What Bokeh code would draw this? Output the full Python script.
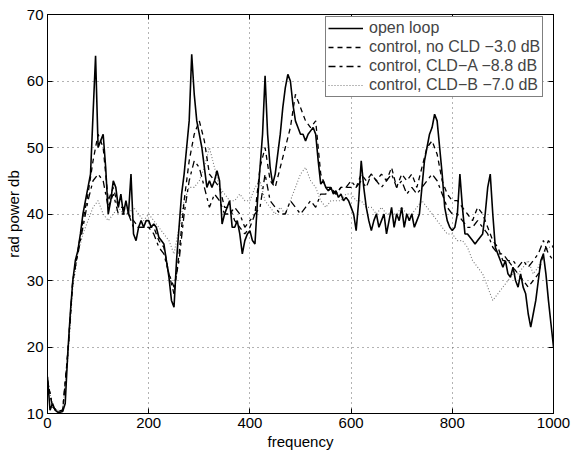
from bokeh.plotting import figure
from bokeh.models import Range1d, FixedTicker, LinearAxis, Legend, LegendItem
from bokeh.embed import file_html
from bokeh.resources import INLINE

# ---- data ----
ol_freq = list(range(0, 1001, 5))
open_loop = [
    15.5, 10.5, 11.5, 10.5, 10.2, 10.2, 10.3, 11.5, 19, 25, 30, 33, 34.5, 37, 40, 42, 44, 46, 55, 63.8,
    50, 51, 52, 47, 40, 42, 45, 44, 41, 43, 40, 42, 40, 46, 37, 36, 38, 39, 38, 39,
    39, 38, 38.5, 38, 36.5, 36, 35.5, 33, 30.5, 27, 26, 33, 38, 43, 46, 50, 54, 64, 58, 54,
    52, 50, 47, 44, 45, 44, 45, 46.5, 45, 38.5, 40, 41, 42, 38, 38, 39, 37, 34, 36, 37,
    37.5, 36, 35.5, 42, 47, 52, 60.8, 52, 47, 44.5, 46, 49, 52, 56, 59, 61, 60, 56.5, 54, 53,
    52, 52, 51, 52, 52.5, 53, 52, 48, 44.5, 45, 44, 43.5, 44, 43, 43.5, 42.5, 43, 42, 42.5, 42,
    41, 40, 37.5, 42, 48, 44, 41, 39, 37.5, 39, 40, 38, 39, 40, 37, 39, 41, 38, 40, 39,
    41, 38, 40, 39, 40, 38, 39, 40, 44, 48, 50, 52, 53, 55, 54, 50, 46, 41, 39, 38,
    37.5, 38, 40, 46, 41, 37, 37, 36.5, 36, 35.5, 36, 36.5, 37, 40, 44, 46, 40, 35, 34, 33,
    32, 33, 31, 30.5, 32, 30, 29, 31, 29, 28, 25, 23, 25, 27, 30, 33, 34, 31, 27, 23.5,
    20,
]

ctrl_freq = list(range(0, 1001, 10))
no_cld = [
    15, 11, 10.3, 10.5, 19, 30, 34.5, 39, 43, 48,
    52, 50, 42, 44, 41, 41, 40, 39, 38, 38,
    38, 38, 36, 35, 31, 28, 34, 42, 48, 52,
    54, 51, 46, 45, 44, 41, 41, 39, 38, 37,
    38, 40, 47, 50, 45, 44, 47, 50, 53, 58,
    56, 54, 53, 54, 46, 44, 44, 43, 44, 44,
    44, 44, 46, 45, 46, 45, 46, 45, 47, 44,
    46, 45, 46, 44, 47, 50, 51, 49, 45, 43,
    42, 42, 41, 40, 39, 41, 40, 38, 36, 35,
    33, 33, 32, 31, 30, 29, 30, 31, 34, 36,
    35,
]
cld_a = [
    15, 11, 10.3, 10.5, 19, 30, 34, 38, 42, 45,
    46, 45, 41, 43, 40, 40, 40, 38, 38, 38,
    38, 37, 35, 34, 31, 29, 33, 40, 45, 48,
    47, 44, 41, 43, 42, 40, 40, 41, 40, 38,
    39, 40, 41, 46, 42, 41, 40, 40, 42, 41,
    40, 41, 42, 41, 43, 43, 44, 43, 44, 44,
    45, 44, 45, 44, 46, 45, 44, 45, 46, 44,
    45, 43, 44, 43, 44, 45, 46, 45, 43, 41,
    40, 40, 39, 38, 38, 39, 38, 37, 35, 34,
    34, 33, 33, 32, 33, 32, 33, 34, 36, 34,
    33,
]
cld_b = [
    15, 11, 10.5, 10.5, 18, 29, 34, 37, 39, 41,
    42, 40, 39, 40, 41, 40, 40, 41, 40, 39,
    40, 39, 38, 37, 36, 34, 38, 42, 44, 44,
    45, 47, 50, 47, 44, 43, 42, 42, 43, 42,
    42, 44, 45, 42, 41, 40, 41, 40, 42, 44,
    46, 47, 45, 44, 42, 41, 42, 42, 42, 43,
    43, 42, 42, 41, 41, 40, 41, 40, 40, 40,
    41, 40, 40, 41, 42, 41, 40, 39, 38, 37,
    37, 36, 36, 35, 33, 32, 31, 29, 27, 28,
    29, 30, 31, 31, 32, 33, 31, 32, 34, 35,
    35,
]

labels = ["open loop", "control, no CLD \u22123.0 dB",
          "control, CLD\u2212A \u22128.8 dB", "control, CLD\u2212B \u22127.0 dB"]
x_ticks = [0, 200, 400, 600, 800, 1000]
y_ticks = [10, 20, 30, 40, 50, 60, 70]

FONT = "Liberation Sans"

p = figure(width=571, height=454, output_backend="svg", toolbar_location=None,
           x_range=Range1d(0, 1000), y_range=Range1d(10, 70),
           min_border_left=47, min_border_right=18, min_border_top=14, min_border_bottom=41)
p.background_fill_color = "white"
p.border_fill_color = "white"
p.outline_line_color = "black"
p.outline_line_width = 1

for ax in (p.xaxis[0], p.yaxis[0]):
    ax.major_tick_in = 5
    ax.major_tick_out = 0
    ax.minor_tick_line_color = None
    ax.axis_line_color = "black"
    ax.major_tick_line_color = "black"
    ax.major_label_text_font = FONT
    ax.major_label_text_font_size = "15px"
    ax.major_label_text_color = "black"
    ax.axis_label_text_font = FONT
    ax.axis_label_text_font_size = "15px"
    ax.axis_label_text_font_style = "normal"
    ax.axis_label_text_color = "black"
    ax.major_label_standoff = 4
    ax.axis_label_standoff = 2
p.xaxis[0].ticker = FixedTicker(ticks=x_ticks)
p.yaxis[0].ticker = FixedTicker(ticks=y_ticks)
p.xaxis[0].axis_label = "frequency"
p.yaxis[0].axis_label = "rad power db"

# box ticks on the top and right edges (no labels there)
top = LinearAxis(ticker=FixedTicker(ticks=x_ticks), major_label_text_font_size="1px",
                 major_label_text_color=None, major_label_text_alpha=0,
                 major_tick_in=5, major_tick_out=0, minor_tick_line_color=None,
                 major_label_standoff=0)
right = LinearAxis(ticker=FixedTicker(ticks=y_ticks), major_label_text_font_size="1px",
                   major_label_text_color=None, major_label_text_alpha=0,
                   major_tick_in=5, major_tick_out=0, minor_tick_line_color=None,
                   major_label_standoff=0)
p.add_layout(top, "above")
p.add_layout(right, "right")

p.xgrid.ticker = FixedTicker(ticks=x_ticks)
p.ygrid.ticker = FixedTicker(ticks=y_ticks)
for g in (p.xgrid[0], p.ygrid[0]):
    g.grid_line_color = "#666666"
    g.grid_line_dash = "1 4"
    g.grid_line_width = 1

r_b = p.line(ctrl_freq, cld_b, line_color="#777777", line_width=1.1, line_dash="1 2")
r_a = p.line(ctrl_freq, cld_a, line_color="black", line_width=1.3, line_dash="7 4 3 4")
r_n = p.line(ctrl_freq, no_cld, line_color="black", line_width=1.3, line_dash="5 4")
r_o = p.line(ol_freq, open_loop, line_color="black", line_width=1.6)

legend = Legend(items=[LegendItem(label=labels[0], renderers=[r_o]),
                       LegendItem(label=labels[1], renderers=[r_n]),
                       LegendItem(label=labels[2], renderers=[r_a]),
                       LegendItem(label=labels[3], renderers=[r_b])],
                location=(278, 316), margin=0, padding=2, spacing=1,
                glyph_width=35, glyph_height=16, label_height=16, label_standoff=6,
                label_text_font=FONT, label_text_font_size="16px",
                border_line_color="black", border_line_width=1,
                background_fill_color="white", background_fill_alpha=1)
p.add_layout(legend)

open("out.html", "w").write(file_html(p, INLINE))
